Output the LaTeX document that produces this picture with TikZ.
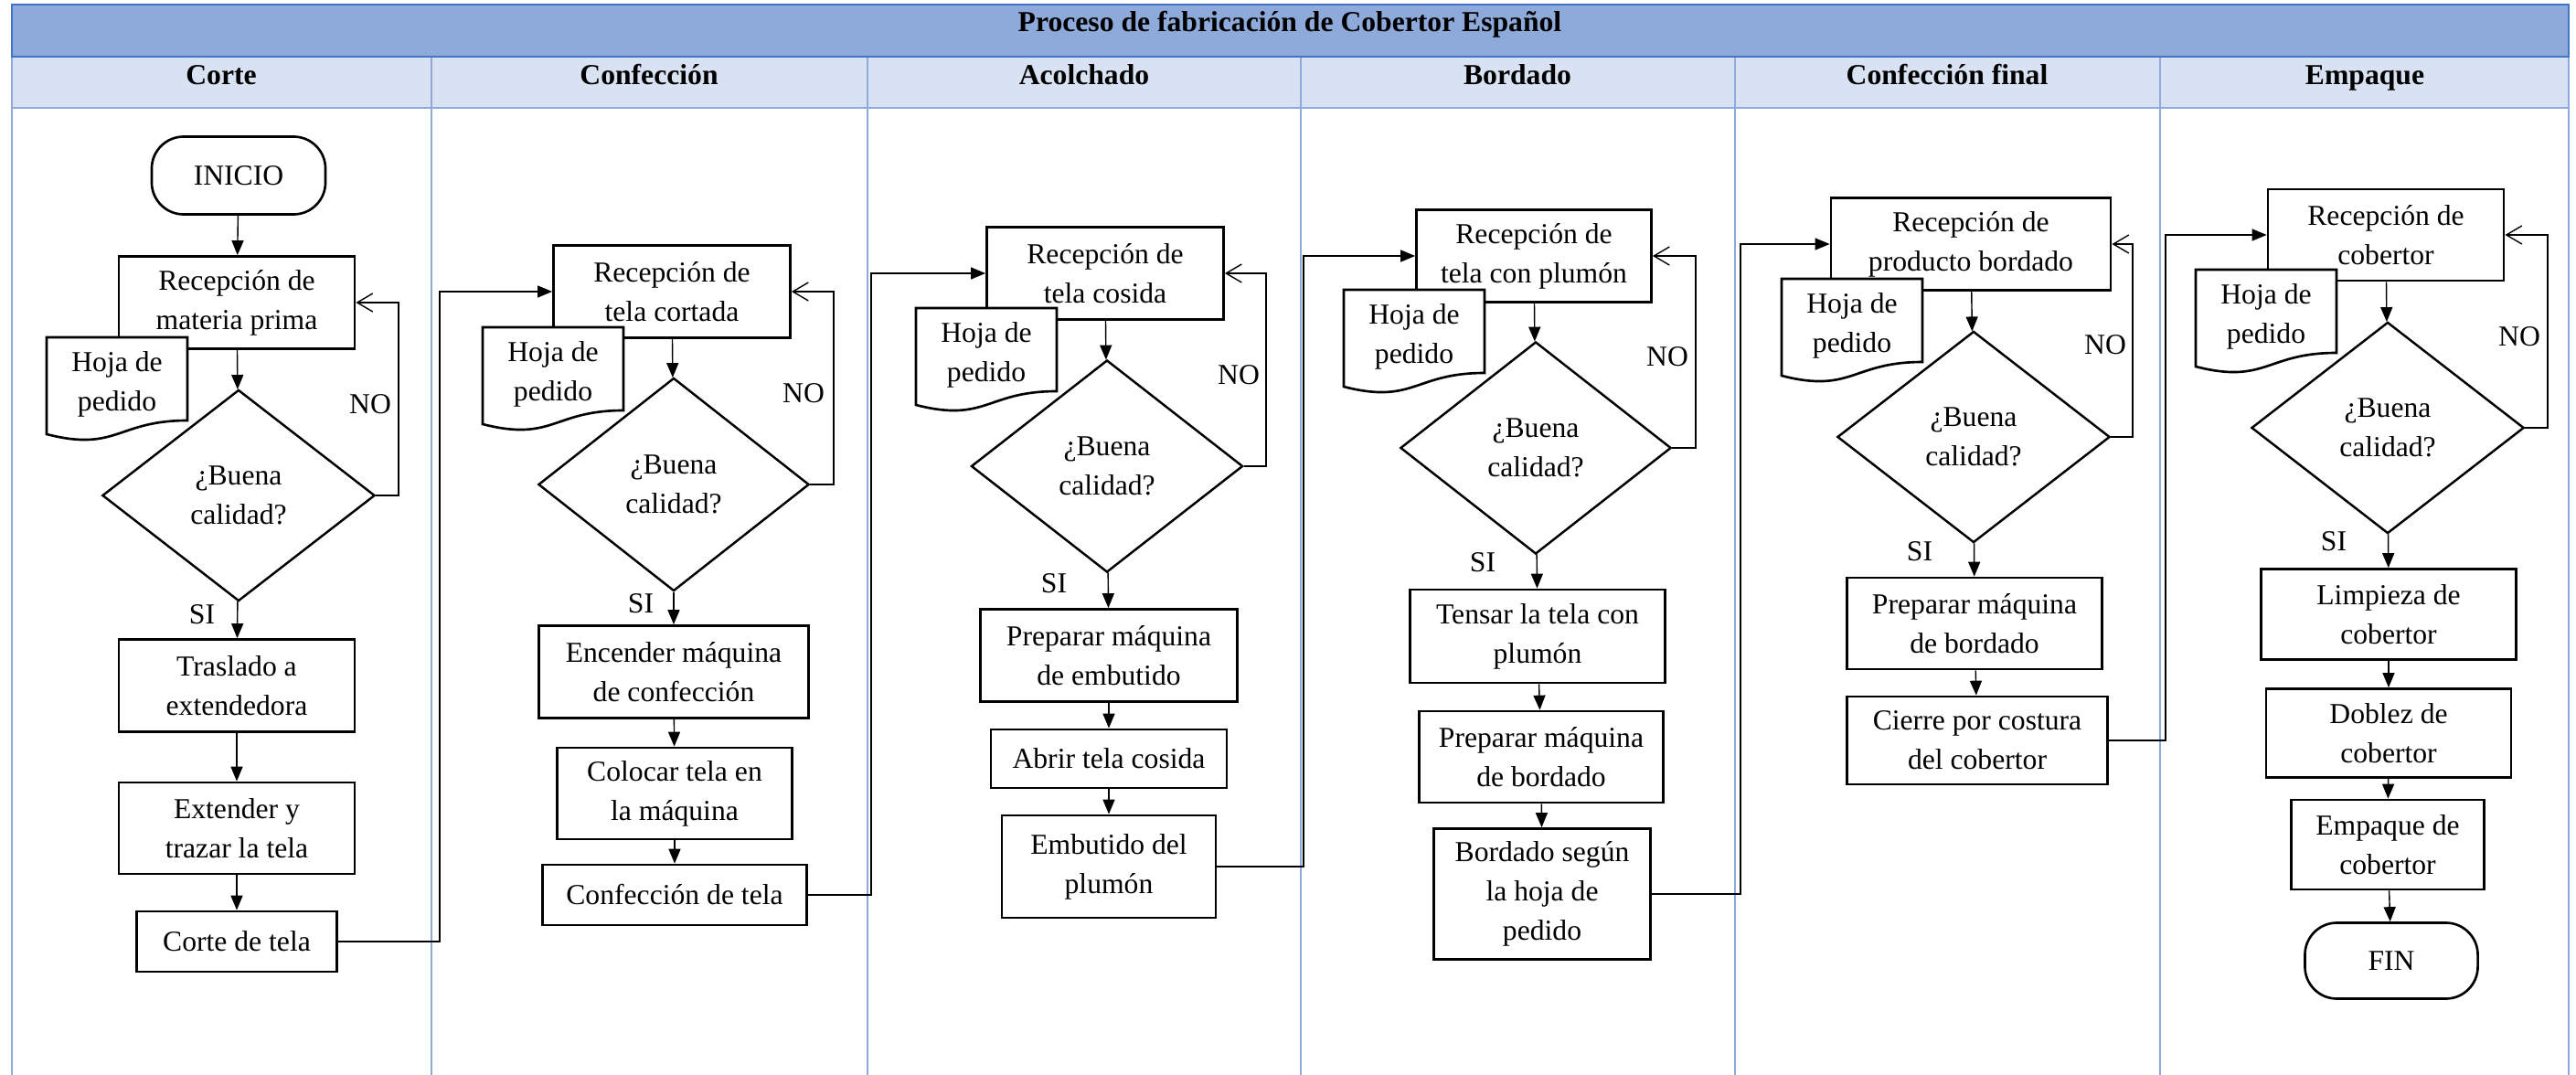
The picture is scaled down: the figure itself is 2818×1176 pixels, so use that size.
\documentclass[tikz,border=0pt]{standalone}
\usepackage{fontspec}
\setmainfont{Liberation Serif}
\usetikzlibrary{arrows.meta,shapes.geometric}

\definecolor{titlefill}{HTML}{8EAADB}
\definecolor{titleline}{HTML}{4472C4}
\definecolor{headfill}{HTML}{D9E2F3}
\definecolor{laneline}{HTML}{8EAADB}

% order sheet: a page with a wavy bottom edge, plus its label node
% #1 node name, #2 centre x, #3 top y
\newcommand\hojadoc[3]{%
  \draw[docline] (#2-77,#3) -- (#2+77,#3) -- (#2+77,#3+91)
    .. controls (#2,#3+91) and (#2,#3+125.7) .. (#2-77,#3+106) -- cycle;
  \node[doctext] (#1) at (#2,#3+51) {Hoja de\\pedido};}

\begin{document}
\begin{tikzpicture}[x=0.01cm, y=-0.01cm,
  font=\fontsize{9}{12.2}\selectfont,
  box/.style={draw, line width=0.75pt, fill=white, align=center, inner sep=0pt},
  term/.style={box, rounded corners=0.35cm},
  decision/.style={diamond, draw, line width=0.7pt, fill=white, align=center, inner sep=0pt},
  flow/.style={line width=0.4pt, -{Triangle[length=0.16cm,width=0.13cm]}},
  back/.style={line width=0.4pt, -{Straight Barb[length=0.17cm,width=0.2cm]}},
  doctext/.style={align=center, inner sep=0pt},
  docline/.style={draw, line width=0.75pt, fill=white},
  lbl/.style={inner sep=0pt},
  headtext/.style={font=\fontsize{9}{12.2}\selectfont\bfseries, anchor=base, inner sep=0pt},
  lane/.style={draw=laneline, line width=0.5pt},
]
\fill[white] (0,0) rectangle (2818,1176);
\useasboundingbox (0,0) rectangle (2818,1176);

% title bar and lane header row
\fill[titlefill] (13,5) rectangle (2810,62);
\fill[headfill] (13,62) rectangle (2810,118);
\draw[lane] (13,118) -- (2810,118);
\foreach \lx in {13,472,949,1423,1898,2363,2810}
  \draw[lane] (\lx,62) -- (\lx,1176);
\draw[titleline, line width=0.7pt] (13,5) rectangle (2810,62);

\node[headtext] (title) at (1411,35) {Proceso de fabricación de Cobertor Español};
\node[headtext] (h1) at (242,93) {Corte};
\node[headtext] (h2) at (710,93) {Confección};
\node[headtext] (h3) at (1186,93) {Acolchado};
\node[headtext] (h4) at (1660,93) {Bordado};
\node[headtext] (h5) at (2130,93) {Confección final};
\node[headtext] (h6) at (2587,93) {Empaque};

% routing columns
\coordinate (loop1) at (436,0);
\coordinate (loop2) at (912,0);
\coordinate (loop3) at (1385,0);
\coordinate (loop4) at (1855,0);
\coordinate (loop5) at (2333,0);
\coordinate (loop6) at (2787,0);
\coordinate (link1) at (481,0);
\coordinate (link2) at (953,0);
\coordinate (link3) at (1426,0);
\coordinate (link4) at (1904,0);
\coordinate (link5) at (2369,0);

% Corte
\node[term, minimum width=1.9cm, minimum height=0.85cm] (inicio) at (261,192) {INICIO};
\node[box, minimum width=2.58cm, minimum height=1.01cm] (rec1) at (259,331) {Recepción de\\materia prima};
\node[decision, minimum width=2.98cm, minimum height=2.31cm] (dia1) at (261,542) {¿Buena\\calidad?};
\node[box, minimum width=2.58cm, minimum height=1.01cm] (tras) at (259,750) {Traslado a\\extendedora};
\node[box, minimum width=2.58cm, minimum height=1.0cm] (ext) at (259,906) {Extender y\\trazar la tela};
\node[box, minimum width=2.19cm, minimum height=0.66cm] (corte) at (259,1030) {Corte de tela};
\hojadoc{doc1}{128}{369}
\node[lbl] (no1) at (405,442) {NO};
\node[lbl] (si1) at (221,672) {SI};

% Confección
\node[box, minimum width=2.59cm, minimum height=1.01cm] (rec2) at (735,319) {Recepción de\\tela cortada};
\node[decision, minimum width=2.96cm, minimum height=2.33cm] (dia2) at (737,530) {¿Buena\\calidad?};
\node[box, minimum width=2.95cm, minimum height=1.01cm] (enc) at (737,735) {Encender máquina\\de confección};
\node[box, minimum width=2.57cm, minimum height=1.0cm] (col) at (738,868) {Colocar tela en\\la máquina};
\node[box, minimum width=2.89cm, minimum height=0.66cm] (conf) at (738,979) {Confección de tela};
\hojadoc{doc2}{605}{358}
\node[lbl] (no2) at (879,430) {NO};
\node[lbl] (si2) at (701,660) {SI};

% Acolchado
\node[box, minimum width=2.59cm, minimum height=1.01cm] (rec3) at (1209,299) {Recepción de\\tela cosida};
\node[decision, minimum width=2.97cm, minimum height=2.32cm] (dia3) at (1211,510) {¿Buena\\calidad?};
\node[box, minimum width=2.81cm, minimum height=1.01cm] (prep3) at (1213,717) {Preparar máquina\\de embutido};
\node[box, minimum width=2.58cm, minimum height=0.64cm] (abrir) at (1213,830) {Abrir tela cosida};
\node[box, minimum width=2.34cm, minimum height=1.12cm] (emb) at (1213,948) {Embutido del\\plumón};
\hojadoc{doc3}{1079}{337}
\node[lbl] (no3) at (1355,410) {NO};
\node[lbl] (si3) at (1153,638) {SI};

% Bordado
\node[box, minimum width=2.57cm, minimum height=1.01cm] (rec4) at (1678,280) {Recepción de\\tela con plumón};
\node[decision, minimum width=2.96cm, minimum height=2.32cm] (dia4) at (1680,490) {¿Buena\\calidad?};
\node[box, minimum width=2.79cm, minimum height=1.02cm] (tens) at (1682,696) {Tensar la tela con\\plumón};
\node[box, minimum width=2.67cm, minimum height=1.0cm] (prepb) at (1686,828) {Preparar máquina\\de bordado};
\node[box, minimum width=2.37cm, minimum height=1.43cm] (bord) at (1687,978) {Bordado según\\la hoja de\\pedido};
\hojadoc{doc4}{1547}{317}
\node[lbl] (no4) at (1824,390) {NO};
\node[lbl] (si4) at (1622,615) {SI};

% Confección final
\node[box, minimum width=3.06cm, minimum height=1.01cm] (rec5) at (2156,267) {Recepción de\\producto bordado};
\node[decision, minimum width=2.98cm, minimum height=2.31cm] (dia5) at (2159,478) {¿Buena\\calidad?};
\node[box, minimum width=2.79cm, minimum height=1.0cm] (prep5) at (2160,682) {Preparar máquina\\de bordado};
\node[box, minimum width=2.85cm, minimum height=0.96cm] (cierre) at (2163,810) {Cierre por costura\\del cobertor};
\hojadoc{doc5}{2026}{305}
\node[lbl] (no5) at (2303,377) {NO};
\node[lbl] (si5) at (2100,603) {SI};

% Empaque
\node[box, minimum width=2.58cm, minimum height=1.0cm] (rec6) at (2610,257) {Recepción de\\cobertor};
\node[decision, minimum width=2.98cm, minimum height=2.31cm] (dia6) at (2612,468) {¿Buena\\calidad?};
\node[box, minimum width=2.79cm, minimum height=0.99cm] (limp) at (2613,672) {Limpieza de\\cobertor};
\node[box, minimum width=2.68cm, minimum height=0.97cm] (dob) at (2613,802) {Doblez de\\cobertor};
\node[box, minimum width=2.11cm, minimum height=0.98cm] (emp) at (2612,924) {Empaque de\\cobertor};
\node[term, minimum width=1.89cm, minimum height=0.83cm] (fin) at (2616,1051) {FIN};
\hojadoc{doc6}{2479}{295}
\node[lbl] (no6) at (2756,368) {NO};
\node[lbl] (si6) at (2553,592) {SI};

% flow inside each lane
\draw[flow] (inicio) -- (rec1);
\draw[flow] (rec1) -- (dia1);
\draw[flow] (dia1) -- (tras);
\draw[flow] (tras) -- (ext);
\draw[flow] (ext) -- (corte);

\draw[flow] (rec2) -- (dia2);
\draw[flow] (dia2) -- (enc);
\draw[flow] (enc) -- (col);
\draw[flow] (col) -- (conf);

\draw[flow] (rec3) -- (dia3);
\draw[flow] (dia3) -- (prep3);
\draw[flow] (prep3) -- (abrir);
\draw[flow] (abrir) -- (emb);

\draw[flow] (rec4) -- (dia4);
\draw[flow] (dia4) -- (tens);
\draw[flow] (tens) -- (prepb);
\draw[flow] (prepb) -- (bord);

\draw[flow] (rec5) -- (dia5);
\draw[flow] (dia5) -- (prep5);
\draw[flow] (prep5) -- (cierre);

\draw[flow] (rec6) -- (dia6);
\draw[flow] (dia6) -- (limp);
\draw[flow] (limp) -- (dob);
\draw[flow] (dob) -- (emp);
\draw[flow] (emp) -- (fin);

% rejected quality goes back to reception
\draw[back] (dia1.east) -- (dia1.east -| loop1) |- (rec1.east);
\draw[back] (dia2.east) -- (dia2.east -| loop2) |- (rec2.east);
\draw[back] (dia3.east) -- (dia3.east -| loop3) |- (rec3.east);
\draw[back] (dia4.east) -- (dia4.east -| loop4) |- (rec4.east);
\draw[back] (dia5.east) -- (dia5.east -| loop5) |- (rec5.east);
\draw[back] (dia6.east) -- (dia6.east -| loop6) |- (rec6.east);

% hand-over to the next area
\draw[flow] (corte.east) -- (corte.east -| link1) |- (rec2.west);
\draw[flow] (conf.east) -- (conf.east -| link2) |- (rec3.west);
\draw[flow] (emb.east) -- (emb.east -| link3) |- (rec4.west);
\draw[flow] (bord.east) -- (bord.east -| link4) |- (rec5.west);
\draw[flow] (cierre.east) -- (cierre.east -| link5) |- (rec6.west);
\end{tikzpicture}
\end{document}
